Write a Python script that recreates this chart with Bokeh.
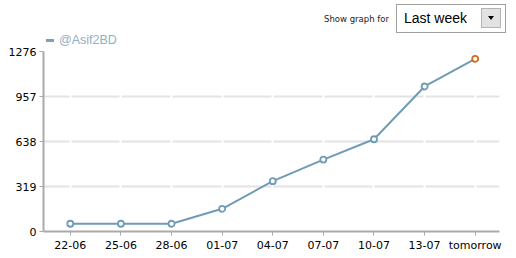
from bokeh.plotting import figure
from bokeh.models import ColumnDataSource, FixedTicker, Range1d, Div
from bokeh.layouts import column
from bokeh.embed import file_html
from bokeh.resources import INLINE

dates = ["22-06", "25-06", "28-06", "01-07", "04-07", "07-07", "10-07", "13-07", "tomorrow"]
followers = [55, 55, 55, 161, 357, 510, 654, 1028, 1224]
y_ticks = [0, 319, 638, 957, 1276]
series_name = "@Asif2BD"
control_label = "Show graph for"
control_choice = "Last week"

W, H_HEAD = 516, 47

# ---------- header strip (legend + "Show graph for" control) ----------
header_html = f"""
<div style="position:relative;width:{W}px;height:{H_HEAD}px;background:white;overflow:hidden;">
  <div style="position:absolute;left:46px;top:39px;width:8px;height:3px;background:#7aa3bb;"></div>
  <span style="position:absolute;left:59px;top:34px;font-family:Arial,'Liberation Sans',sans-serif;
        font-size:12.5px;line-height:12.5px;color:#8fb0c4;white-space:nowrap;">{series_name}</span>
  <span style="position:absolute;left:324px;top:14.5px;font-family:Verdana,'DejaVu Sans',sans-serif;
        font-size:8.5px;line-height:9px;color:#222222;white-space:nowrap;">{control_label}</span>
  <div style="position:absolute;left:396px;top:4px;width:110px;height:29px;box-sizing:border-box;
        border:1px solid #a0a0a0;background:white;"></div>
  <span style="position:absolute;left:404px;top:11px;font-family:Arial,'Liberation Sans',sans-serif;
        font-size:14px;line-height:14px;color:#000000;white-space:nowrap;">{control_choice}</span>
  <div style="position:absolute;left:481px;top:8px;width:20px;height:20px;box-sizing:border-box;
        border:1px solid #b4b4b4;background:#e2e2e2;"></div>
  <div style="position:absolute;left:488px;top:16px;width:0;height:0;border-left:3px solid transparent;
        border-right:3px solid transparent;border-top:4px solid #000000;"></div>
</div>
"""
h = Div(text=header_html, width=W, height=H_HEAD, margin=0)

# ---------- main chart ----------
xs = list(range(len(dates)))
src = ColumnDataSource(dict(x=xs[:-1], y=followers[:-1]))
src_last = ColumnDataSource(dict(x=xs[-1:], y=followers[-1:]))

p = figure(width=W, height=258 - H_HEAD, output_backend="svg", toolbar_location=None,
           x_range=Range1d(-0.53, 8.48), y_range=Range1d(0, 1276),
           min_border_left=43, min_border_right=17, min_border_top=51 - H_HEAD,
           min_border_bottom=27, margin=0)
p.outline_line_color = None
p.background_fill_color = "white"
p.border_fill_color = "white"

blue = "#6f9cb5"
p.line(xs, followers, line_color=blue, line_width=2)
p.scatter("x", "y", source=src, size=6, fill_color="white", line_color=blue, line_width=1.8)
p.scatter("x", "y", source=src_last, size=6, fill_color="white", line_color="#d2691e", line_width=1.8)

p.xaxis.ticker = FixedTicker(ticks=xs)
p.xaxis.major_label_overrides = {i: d for i, d in enumerate(dates)}
p.yaxis.ticker = FixedTicker(ticks=y_ticks)
for ax in (p.xaxis[0], p.yaxis[0]):
    ax.axis_line_color = "#aaaaaa"
    ax.axis_line_width = 2
    ax.major_tick_line_color = "#aaaaaa"
    ax.major_tick_in = 0
    ax.major_tick_out = 4
    ax.minor_tick_line_color = None
    ax.major_label_text_font = "Verdana, DejaVu Sans"
    ax.major_label_text_font_size = "11px"
    ax.major_label_text_color = "#000000"
    ax.major_label_standoff = 3

p.ygrid.grid_line_color = "#e3e3e3"
p.ygrid.grid_line_width = 2
p.xgrid.grid_line_color = "white"
p.xgrid.grid_line_width = 2
# draw the white vertical grid over the horizontal one
p.center = [p.ygrid[0], p.xgrid[0]] + [r for r in p.center if r not in (p.ygrid[0], p.xgrid[0])]

layout = column(h, p, spacing=0, margin=0)
open("out.html", "w").write(file_html(layout, INLINE))
